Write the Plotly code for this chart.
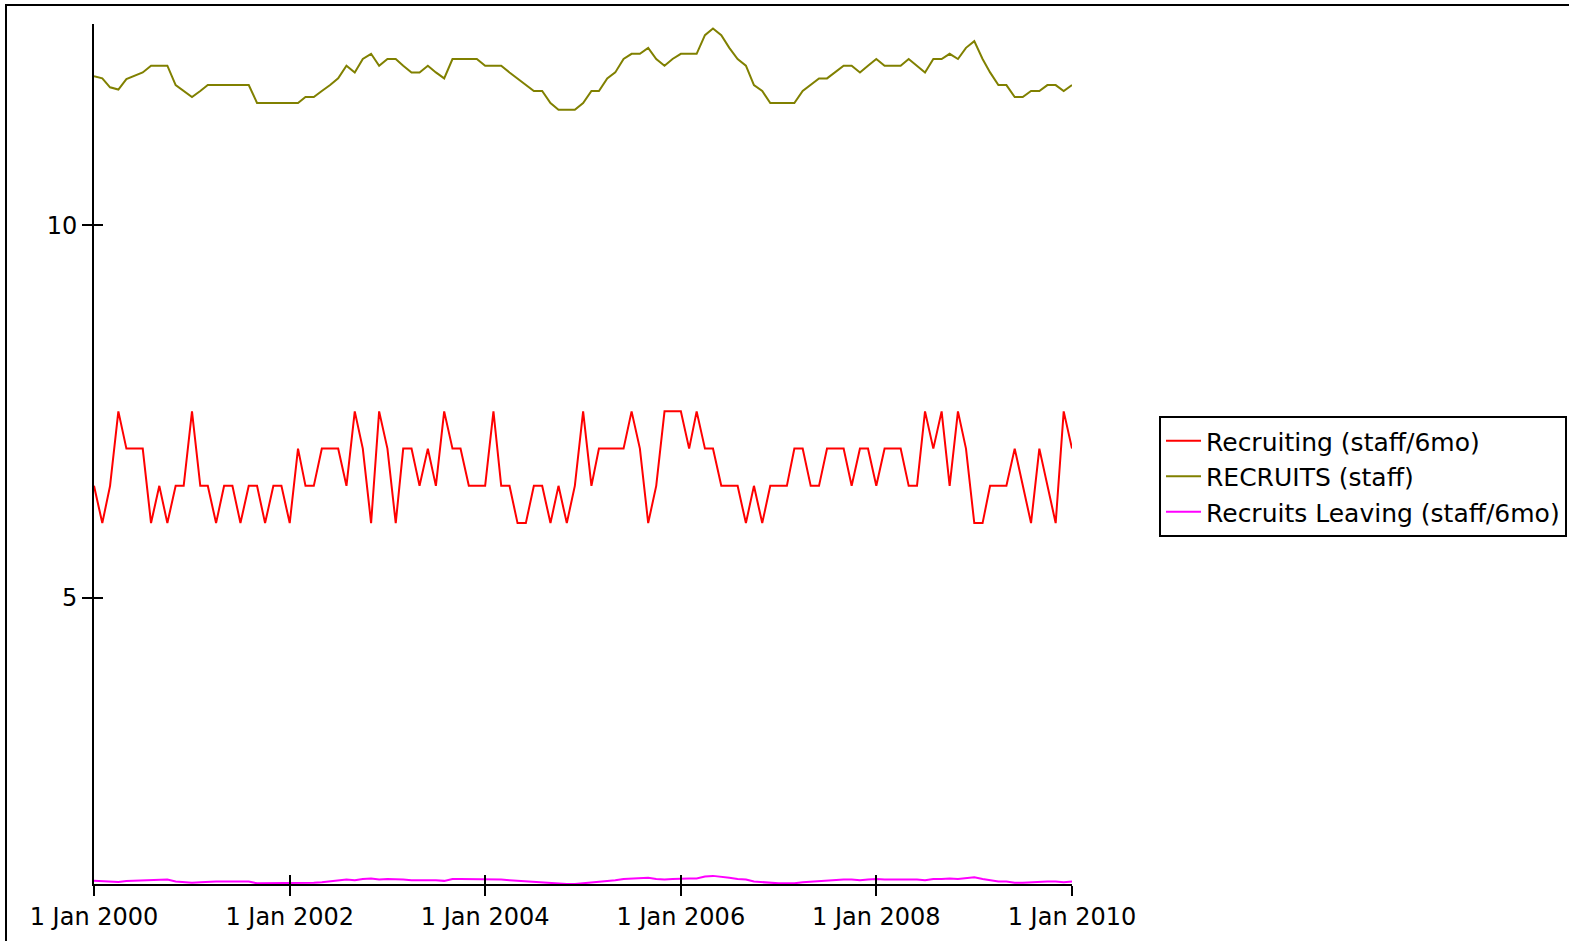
import plotly.graph_objects as go
import pandas as pd

# Monthly time axis, Jan 2000 .. Jan 2010
dates = pd.date_range("2000-01-01", "2010-01-01", freq="MS")

recruiting = [
    6.5, 6.0, 6.5, 7.5, 7.0, 7.0, 7.0, 6.0, 6.5, 6.0,
    6.5, 6.5, 7.5, 6.5, 6.5, 6.0, 6.5, 6.5, 6.0, 6.5,
    6.5, 6.0, 6.5, 6.5, 6.0, 7.0, 6.5, 6.5, 7.0, 7.0,
    7.0, 6.5, 7.5, 7.0, 6.0, 7.5, 7.0, 6.0, 7.0, 7.0,
    6.5, 7.0, 6.5, 7.5, 7.0, 7.0, 6.5, 6.5, 6.5, 7.5,
    6.5, 6.5, 6.0, 6.0, 6.5, 6.5, 6.0, 6.5, 6.0, 6.5,
    7.5, 6.5, 7.0, 7.0, 7.0, 7.0, 7.5, 7.0, 6.0, 6.5,
    7.5, 7.5, 7.5, 7.0, 7.5, 7.0, 7.0, 6.5, 6.5, 6.5,
    6.0, 6.5, 6.0, 6.5, 6.5, 6.5, 7.0, 7.0, 6.5, 6.5,
    7.0, 7.0, 7.0, 6.5, 7.0, 7.0, 6.5, 7.0, 7.0, 7.0,
    6.5, 6.5, 7.5, 7.0, 7.5, 6.5, 7.5, 7.0, 6.0, 6.0,
    6.5, 6.5, 6.5, 7.0, 6.5, 6.0, 7.0, 6.5, 6.0, 7.5,
    7.0,
]

recruits = [
    12.00, 11.97, 11.85, 11.82, 11.96, 12.01, 12.05, 12.14, 12.14, 12.14,
    11.88, 11.80, 11.72, 11.80, 11.88, 11.88, 11.88, 11.88, 11.88, 11.88,
    11.64, 11.64, 11.64, 11.64, 11.64, 11.64, 11.72, 11.72, 11.80, 11.88,
    11.97, 12.14, 12.05, 12.23, 12.30, 12.14, 12.23, 12.23, 12.14, 12.05,
    12.05, 12.14, 12.05, 11.97, 12.23, 12.23, 12.23, 12.23, 12.14, 12.14,
    12.14, 12.05, 11.97, 11.88, 11.80, 11.80, 11.64, 11.55, 11.55, 11.55,
    11.64, 11.80, 11.80, 11.97, 12.05, 12.23, 12.30, 12.30, 12.38, 12.23,
    12.14, 12.23, 12.30, 12.30, 12.30, 12.55, 12.64, 12.55, 12.38, 12.23,
    12.14, 11.88, 11.80, 11.64, 11.64, 11.64, 11.64, 11.80, 11.88, 11.97,
    11.97, 12.05, 12.14, 12.14, 12.05, 12.14, 12.23, 12.14, 12.14, 12.14,
    12.23, 12.14, 12.05, 12.23, 12.23, 12.30, 12.23, 12.38, 12.47, 12.23,
    12.05, 11.88, 11.88, 11.72, 11.72, 11.80, 11.80, 11.88, 11.88, 11.80,
    11.88,
]

leaving = [
    1.200, 1.197, 1.185, 1.182, 1.196, 1.201, 1.205, 1.214, 1.214, 1.214,
    1.188, 1.180, 1.172, 1.180, 1.188, 1.188, 1.188, 1.188, 1.188, 1.188,
    1.164, 1.164, 1.164, 1.164, 1.164, 1.164, 1.172, 1.172, 1.180, 1.188,
    1.197, 1.214, 1.205, 1.223, 1.230, 1.214, 1.223, 1.223, 1.214, 1.205,
    1.205, 1.214, 1.205, 1.197, 1.223, 1.223, 1.223, 1.223, 1.214, 1.214,
    1.214, 1.205, 1.197, 1.188, 1.180, 1.180, 1.164, 1.155, 1.155, 1.155,
    1.164, 1.180, 1.180, 1.197, 1.205, 1.223, 1.230, 1.230, 1.238, 1.223,
    1.214, 1.223, 1.230, 1.230, 1.230, 1.255, 1.264, 1.255, 1.238, 1.223,
    1.214, 1.188, 1.180, 1.164, 1.164, 1.164, 1.164, 1.180, 1.188, 1.197,
    1.197, 1.205, 1.214, 1.214, 1.205, 1.214, 1.223, 1.214, 1.214, 1.214,
    1.223, 1.214, 1.205, 1.223, 1.223, 1.230, 1.223, 1.238, 1.247, 1.223,
    1.205, 1.188, 1.188, 1.172, 1.172, 1.180, 1.180, 1.188, 1.188, 1.180,
    1.188,
]

x_tick_vals = ["2000-01-01", "2002-01-01", "2004-01-01", "2006-01-01", "2008-01-01", "2010-01-01"]
x_tick_text = ["1 Jan 2000", "1 Jan 2002", "1 Jan 2004", "1 Jan 2006", "1 Jan 2008", "1 Jan 2010"]
y_tick_vals = [5, 10]
y_tick_text = ["5", "10"]

FONT = "DejaVu Sans, Verdana, sans-serif"
FS = 24
FS_LEG = 25
x_range = ["2000-01-01", "2010-01-01"]
y_range = [1.155, 12.70]

fig = go.Figure()
fig.add_trace(go.Scatter(x=dates, y=recruiting[:len(dates)], mode="lines",
                         name="Recruiting (staff/6mo)", line=dict(color="#ff0000", width=2),
                         legendgroup="a"))
fig.add_trace(go.Scatter(x=dates, y=recruits[:len(dates)], mode="lines",
                         name="RECRUITS (staff)", line=dict(color="#808000", width=2),
                         legendgroup="b"))
fig.add_trace(go.Scatter(x=dates, y=leaving[:len(dates)], mode="lines",
                         name="Recruits Leaving (staff/6mo)", line=dict(color="#ff00ff", width=2),
                         legendgroup="c", xaxis="x2", yaxis="y2"))

W, H = 1569, 941
L, R, T, B = 94, W - 1072, 24, H - 884
pw, ph = W - L - R, H - T - B

axis_common = dict(showgrid=False, zeroline=False, color="black",
                   tickfont=dict(family=FONT, size=FS, color="black"))

fig.update_layout(
    width=W, height=H, autosize=False,
    margin=dict(l=L, r=R, t=T, b=B, pad=0, autoexpand=False),
    paper_bgcolor="white", plot_bgcolor="white",
    font=dict(family=FONT, size=FS, color="black"),
    xaxis=dict(type="date", range=x_range, tickmode="array", tickvals=x_tick_vals,
               ticktext=x_tick_text, ticks="outside", ticklen=10, tickwidth=2,
               tickcolor="black", showline=True, linecolor="black", linewidth=2,
               anchor="y", **axis_common),
    yaxis=dict(range=y_range, tickmode="array", tickvals=y_tick_vals, ticktext=y_tick_text,
               ticks="outside", ticklen=10, tickwidth=2, tickcolor="black",
               showline=True, linecolor="black", linewidth=2, anchor="x", **axis_common),
    xaxis2=dict(type="date", range=x_range, overlaying="x", anchor="y", tickmode="array",
                tickvals=x_tick_vals, ticks="inside", ticklen=9, tickwidth=2,
                tickcolor="black", showticklabels=False, showline=False,
                showgrid=False, zeroline=False),
    yaxis2=dict(range=y_range, overlaying="y", anchor="x", tickmode="array",
                tickvals=y_tick_vals, ticks="inside", ticklen=9, tickwidth=2,
                tickcolor="black", showticklabels=False, showline=False,
                showgrid=False, zeroline=False),
    legend=dict(xref="container", yref="container",
                x=1159 / W, y=1 - 416 / H, xanchor="left", yanchor="top",
                bordercolor="black", borderwidth=2, bgcolor="white",
                font=dict(family=FONT, size=FS_LEG, color="black"),
                traceorder="grouped", tracegroupgap=0, itemwidth=35),
    showlegend=True,
    shapes=[dict(type="rect", xref="paper", yref="paper",
                 x0=(6 - L) / pw, x1=1.6, y0=-0.2, y1=(884 - 5) / ph,
                 line=dict(color="black", width=2), fillcolor="rgba(0,0,0,0)", layer="below")],
)

fig.write_html("out.html", config={"displayModeBar": False},
               post_script="document.body.style.margin='0px';document.body.style.padding='0px';")
